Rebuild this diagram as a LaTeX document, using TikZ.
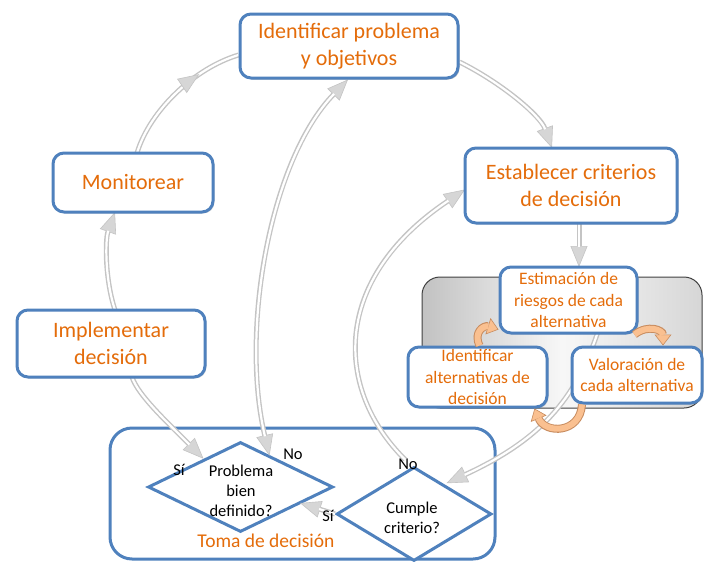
\documentclass[tikz,border=0pt]{standalone}
\usepackage{fontspec}
\setmainfont{Carlito}
\usetikzlibrary{arrows.meta,shapes.geometric,shadows,decorations.markings}
\definecolor{bblue}{RGB}{79,129,189}
\definecolor{otxt}{RGB}{228,108,10}
\definecolor{glinecol}{RGB}{196,196,196}
\definecolor{gheadcol}{RGB}{214,214,214}
\definecolor{ofill}{RGB}{250,192,144}
\definecolor{oline}{RGB}{200,140,95}
\tikzset{
  gtip/.tip={Triangle[width=17pt,length=21pt,fill=gheadcol,line width=0.6pt]},
  otip/.tip={Triangle[width=17pt,length=11pt,fill=ofill,line width=0.6pt]},
  box/.style={draw=bblue, line width=3pt, rounded corners=11pt, fill=white, text=otxt,
    align=center, inner sep=0pt, font=\fontsize{22}{26.5}\selectfont,
    drop shadow={shadow xshift=1.5pt,shadow yshift=-1.5pt,opacity=0.25}},
  sbox/.style={box, font=\fontsize{17.5}{21.5}\selectfont},
  dia/.style={diamond, draw=bblue, line width=3pt, inner sep=0pt, fill=white},
  dtext/.style={align=center, font=\fontsize{16.5}{20}\selectfont, inner sep=0pt},
  lab/.style={font=\fontsize{16.5}{20}\selectfont, inner sep=0pt},
  garrow/.style={draw=glinecol, line width=5pt, -{gtip},
    postaction={draw=white, line width=2.2pt, -, shorten >=20pt}},
  gboth/.style={draw=glinecol, line width=5pt, {gtip}-{gtip},
    postaction={draw=white, line width=2.2pt, -, shorten >=20pt, shorten <=20pt}},
  gmid/.style={draw=glinecol, line width=5pt,
    postaction={draw=white, line width=2.2pt},
    postaction={decorate, decoration={markings, mark=at position #1 with {\arrow[glinecol]{gtip}}}}},
  oarrow/.style={draw=oline, line width=8pt, -{otip},
    postaction={draw=ofill, line width=6pt, -, shorten >=10.5pt}},
}
\begin{document}
\begin{tikzpicture}[x=1pt,y=-1pt]
\useasboundingbox (0,0) rectangle (704,562);

% containers
\node[draw=bblue, line width=3pt, rounded corners=22pt, minimum width=385pt, minimum height=131pt] (toma) at (302.5,493.5) {};
\node[draw=black!75, line width=1pt, rounded corners=18pt, minimum width=280pt, minimum height=131pt,
  left color=black!24, right color=black!16, middle color=black!3] (panel) at (562,342.5) {};

% diamonds
\node[dia, minimum width=185pt, minimum height=90pt] (prob) at (240.5,487) {};
\node[dia, minimum width=155pt, minimum height=94pt] (cum) at (414,514) {};

% geometry of the top box (drawn later, on top of the connectors)
\path node[box, draw=none, fill=none, drop shadow={opacity=0}, text opacity=0, minimum width=218pt, minimum height=64pt] (identg) at (349,46) {Identificar problema\\y objetivos};

% grey connectors
\draw[garrow] ([yshift=-16pt]identg.east) .. controls (500,82) and (540,115) .. (552,148);
\draw[gmid=0.7] (137,153) .. controls (150,110) and (195,68) .. ([yshift=-9pt]identg.west);
\draw[garrow] (115,310) .. controls (105,280) and (105,240) .. (115,212);
\draw[garrow] (132,377) .. controls (138,395) and (165,420) .. ([xshift=10pt,yshift=5pt]prob.north west);
\draw[gboth] ([xshift=-18pt,yshift=8pt]prob.north east) .. controls (240,330) and (270,160) .. ([xshift=-1pt]identg.south);
\draw[garrow] ([xshift=-9pt,yshift=6pt]cum.north) .. controls (335,390) and (330,280) .. (465,189.5);
\draw[garrow] (597.5,333) .. controls (575,400) and (540,440) .. ([xshift=-7pt,yshift=6.5pt]cum.north east);
\draw[garrow] (579,223) -- (579,267);
\draw[garrow] (cum.west) -- (300,503);

% boxes
\node[box, minimum width=218pt, minimum height=64pt] (ident) at (349,46) {Identificar problema\\y objetivos};
\node[box, minimum width=160pt, minimum height=59pt] (mon) at (133,182.5) {Monitorear};
\node[box, minimum width=188pt, minimum height=67pt] (impl) at (111,343.5) {Implementar\\decisión};
\node[box, minimum width=212pt, minimum height=75pt] (estab) at (571,185.5) {Establecer criterios\\de decisión};
\node[sbox, minimum width=137pt, minimum height=66pt] (est) at (568.5,300) {Estimación de\\riesgos de cada\\alternativa};
\node[sbox, minimum width=139pt, minimum height=60pt] (idalt) at (477.5,377) {Identificar\\alternativas de\\decisión};
\node[sbox, minimum width=130pt, minimum height=56pt] (val) at (637,375) {Valoración de\\cada alternativa};

% orange cycle arrows
\draw[oarrow] ([xshift=2pt]idalt.north) .. controls (473,332) and (484,325) .. ([yshift=5pt]est.south west);
\draw[oarrow] ([xshift=-4pt]est.south east) .. controls (648,324) and (663,330) .. ([xshift=26pt]val.north);
\draw[oarrow] ([xshift=-55pt]val.south) .. controls (580,434) and (545,434) .. ([xshift=-14pt]idalt.south east);

% diamond texts and labels
\node[dtext] (probt) at (241,491) {Problema\\bien\\definido?};
\node[dtext] (cumt) at (412,518) {Cumple\\criterio?};
\node[lab] (si1) at (179,470) {Sí};
\node[lab] (no1) at (293,454) {No};
\node[lab] (no2) at (408,464) {No};
\node[lab] (si2) at (328,516) {Sí};
\node[font=\fontsize{19.5}{22}\selectfont, text=otxt, inner sep=0pt] (tomal) at (266,541) {Toma de decisión};
\end{tikzpicture}
\end{document}
